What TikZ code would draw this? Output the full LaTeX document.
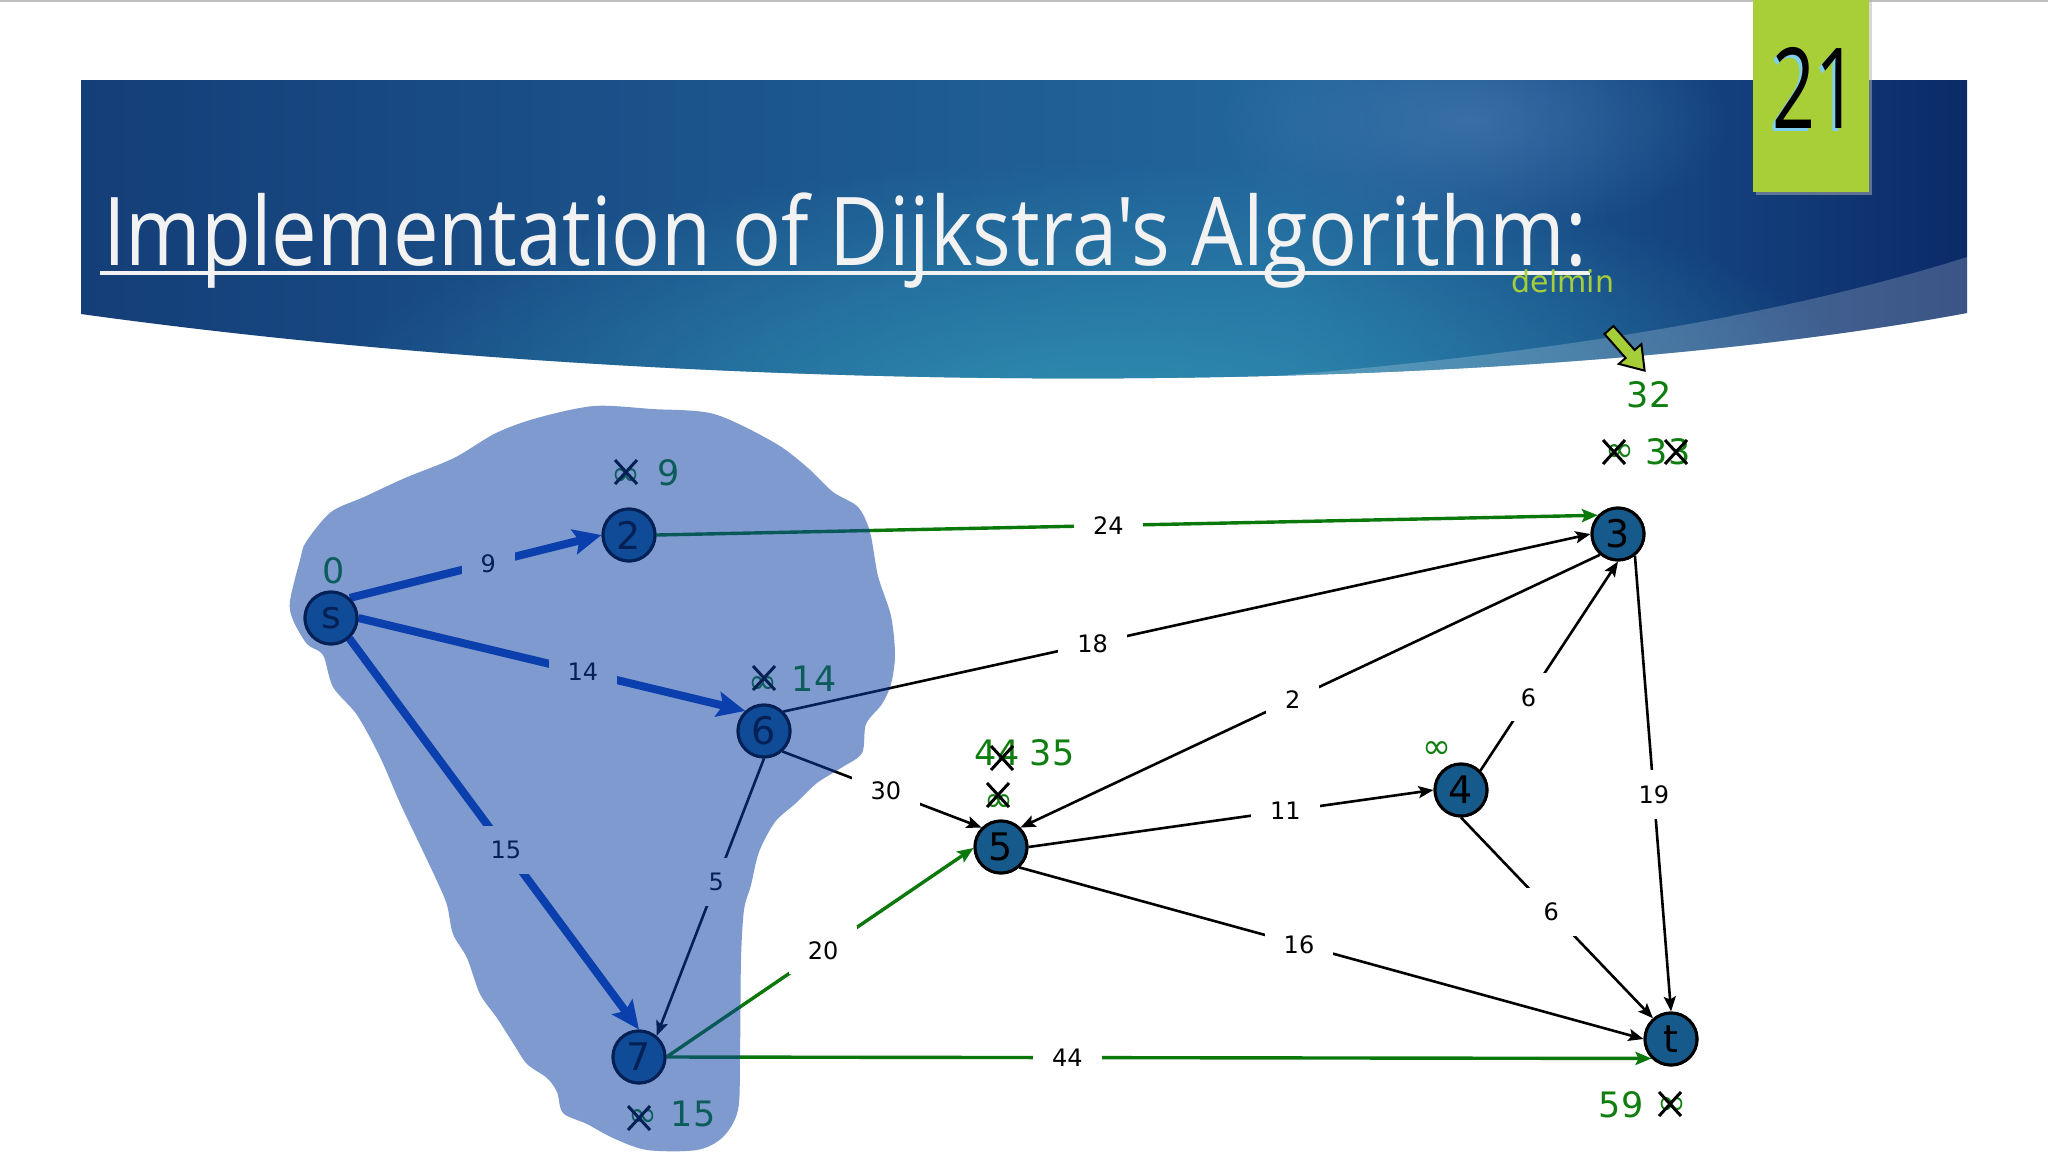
\documentclass[tikz,border=0pt]{standalone}
\usepackage{fontspec}
\usepackage{graphicx}
\usetikzlibrary{arrows.meta,fadings}
\newfontfamily\gfont{DejaVu Sans}
\newfontfamily\tfont{Open Sans}
\definecolor{nodefill}{HTML}{165A8B}
\definecolor{grtext}{HTML}{107D10}
\definecolor{gredge}{HTML}{0A780A}
\definecolor{bluedge}{HTML}{0C41B9}
\definecolor{blobc}{HTML}{0A3EA3}
\definecolor{limec}{HTML}{A6CE39}
\definecolor{boxgreen}{HTML}{A9CF38}
\definecolor{bnA}{HTML}{143E78}
\definecolor{bnB}{HTML}{1D5890}
\definecolor{bnC}{HTML}{22669C}
\definecolor{bnD}{HTML}{14427E}
\definecolor{bnE}{HTML}{0B2A68}
\definecolor{glowc}{HTML}{2E8DB0}
\definecolor{spotc}{HTML}{4A80B6}
\definecolor{shadowc}{HTML}{7FD0EE}
\pgfdeclarehorizontalshading{bannershade}{100bp}{color(0bp)=(bnA); color(25bp)=(bnA); color(45bp)=(bnB); color(57bp)=(bnC); color(68bp)=(bnD); color(75bp)=(bnE); color(100bp)=(bnE)}
\tikzfading[name=glow, inner color=transparent!0, outer color=transparent!100]
\newcommand\strikeX[2]{\draw[xmk] (#1-11,#2-12) -- (#1+11,#2+12) (#1+11,#2-12) -- (#1-11,#2+12);}
\newcommand\infsym{\resizebox{29pt}{!}{\gfont ∞}}
\begin{document}
\begin{tikzpicture}[x=1pt,y=-1pt,
  gnode/.style={circle, draw=black, line width=3pt, fill=nodefill, minimum size=52pt, inner sep=0pt, font=\gfont\fontsize{38}{38}\selectfont},
  elbl/.style={fill=white, inner xsep=19pt, inner ysep=15pt, text=black, font=\gfont\fontsize{24}{24}\selectfont},
  dlbl/.style={inner sep=0pt, text=grtext, font=\gfont\fontsize{35}{35}\selectfont},
  inf/.style={inner sep=0pt, text=grtext},
  xmk/.style={draw=black, line width=3pt},
  blk/.style={draw=black, line width=2.6pt, -{Stealth[length=15pt,width=12pt,inset=3pt]}},
  grn/.style={draw=gredge, line width=3.4pt, -{Stealth[length=16pt,width=13pt,inset=3pt]}},
  blu/.style={draw=bluedge, line width=8pt, -{Stealth[length=28pt,width=25pt,inset=5pt]}}
]
\useasboundingbox (0,0) rectangle (2048,1152);
\fill[white] (0,0) rectangle (2048,1152);
\draw[black!25, line width=2pt] (0,1) -- (2048,1);
% banner
\shade[shading=bannershade] (81,80) -- (1967,80) -- (1967,313) .. controls (1500,400) and (700,400) .. (81,314) -- cycle;
\begin{scope}
  \clip (81,80) -- (1967,80) -- (1967,313) .. controls (1500,400) and (700,400) .. (81,314) -- cycle;
  \fill[glowc, path fading=glow] (1100,410) ellipse [x radius=780, y radius=250];
  \fill[spotc, fill opacity=0.6, path fading=glow] (1470,120) ellipse [x radius=260, y radius=120];
  \fill[white, fill opacity=0.2] (1150,420) -- (1150,385) .. controls (1550,360) and (1800,310) .. (1967,257) -- (2000,257) -- (2000,420) -- cycle;
\end{scope}
% title
\node[anchor=base west, inner sep=0pt, text=black!5] (title) at (103,265) {\resizebox{1484pt}{\height}{\tfont\fontsize{95}{95}\selectfont Implementation of Dijkstra's Algorithm:}};
\draw[black!5, line width=4pt] (100,273) -- (1590,273);
% slide number
\fill[black!30, fill opacity=0.5] (1756,0) rectangle (1872,195);
\fill[boxgreen] (1753,0) rectangle (1869,192);
\node[inner sep=0pt, text=shadowc] (numsh) at (1812,91) {\resizebox{86pt}{81pt}{\tfont 21}};
\node[inner sep=0pt, text=black] (num) at (1815,88) {\resizebox{86pt}{81pt}{\tfont 21}};
% delmin + arrow
\node[inner sep=0pt, text=limec, font=\gfont\fontsize{30}{30}\selectfont] (delmin) at (1563,281) {delmin};
\draw[black, line width=2pt, fill=limec, line join=miter] (1613.5,326) -- (1634.6,350) -- (1641.4,344.1) -- (1644.6,370.6) -- (1618.8,363.9) -- (1625.6,358) -- (1604.5,334) -- cycle;
% graph nodes
\node[gnode] (s) at (331,618) {s};
\node[gnode] (2) at (629,535) {2};
\node[gnode] (6) at (764,731) {6};
\node[gnode] (7) at (639,1057) {7};
\node[gnode] (5) at (1001,847) {5};
\node[gnode] (4) at (1461,790) {4};
\node[gnode] (3) at (1618,534) {3};
\node[gnode] (t) at (1671,1039) {t};
% edges
\draw[blu] (s.47) -- node[elbl,pos=.55] (l9) {9} (2.west);
\draw[blu] (s.east) -- node[elbl,pos=.58] (l14) {14} (6.133);
\draw[blu] (s.-48) -- node[elbl,pos=.54] (l15) {15} (7.north);
\draw[grn] (2.east) -- node[elbl,pos=.48] (l24) {24} (3.137);
\draw[blk] (6.45) -- node[elbl,pos=.383] (l18) {18} (3.west);
\draw[blk] (3.229) -- node[elbl,pos=.53] (l2) {2} (5.45);
\draw[blk] (6.-48) -- node[elbl,pos=.52] (l30) {30} (5.135);
\draw[blk] (6.south) -- node[elbl,pos=.446] (l5) {5} (7.50);
\draw[grn] (7.east) -- node[elbl,pos=.51] (l20) {20} (5.182);
\draw[grn] (7.east) -- node[elbl,pos=.407] (l44) {44} (t.225);
\draw[blk] (5.east) -- node[elbl,pos=.634] (l11) {11} (4.west);
\draw[blk] (5.-48) -- node[elbl,pos=.448] (l16) {16} (t.west);
\draw[blk] (4.45) -- node[elbl,pos=.35] (l6a) {6} (3.south);
\draw[blk] (4.south) -- node[elbl,pos=.47] (l6b) {6} (t.131);
\draw[blk] (3.-52) -- node[elbl,pos=.524] (l19) {19} (t.north);
% redraw nodes on top of edge ends
\foreach \n/\x/\y/\l in {s/331/618/s, 2/629/535/2, 6/764/731/6, 7/639/1057/7, 5/1001/847/5, 4/1461/790/4, 3/1618/534/3, t/1671/1039/t}
  \node[gnode] (n\n) at (\x,\y) {\l};
% distance labels
\node[dlbl] (d0) at (334,571) {0};
\node[inf] (i2) at (626,477) {\infsym}; \strikeX{626}{472}
\node[dlbl] (d2) at (669,473) {9};
\node[inf] (i6) at (763,685) {\infsym}; \strikeX{764}{678}
\node[dlbl] (d6) at (814,679) {14};
\node[inf] (i7) at (643,1118) {\infsym}; \strikeX{639}{1118}
\node[dlbl] (d7) at (693,1114) {15};
\node[dlbl] (d5a) at (997,753) {44}; \strikeX{1002}{758}
\node[dlbl] (d5b) at (1052,753) {35};
\node[inf] (i5) at (999,803) {\infsym}; \strikeX{998}{795}
\node[inf] (i4) at (1437,750) {\infsym};
\node[dlbl] (d3n) at (1649,395) {32};
\node[inf] (i3) at (1620,453) {\infsym}; \strikeX{1614}{452}
\node[dlbl] (d3) at (1668,452) {33}; \strikeX{1676}{452}
\node[dlbl] (dt) at (1621,1105) {59};
\node[inf] (it) at (1672,1106) {\infsym}; \strikeX{1670}{1104}
% blob overlay
\fill[blobc, fill opacity=0.52] plot[smooth cycle, tension=0.5] coordinates {
(290,601) (300,560) (306,542) (331,512) (364,497) (405,478) (454,458) (496,433) (537,418) (594,406) (652,409) (714,414) (775,443) (808,468) (833,492) (858,507) (870,532) (878,576) (891,616) (895,655) (891,684) (882,704) (866,724) (862,753) (841,768) (817,783) (796,803) (775,822) (759,852) (751,885) (744,910) (741,960) (740,1057) (738,1110) (723,1137) (697,1150) (647,1150) (613,1138) (587,1124) (563,1113) (557,1092) (547,1078) (527,1064) (513,1043) (497,1018) (480,994) (467,958) (453,934) (447,905) (437,881) (420,845) (400,803) (380,757) (357,715) (333,687) (323,655) (307,644) (293,620)};
\end{tikzpicture}
\end{document}
